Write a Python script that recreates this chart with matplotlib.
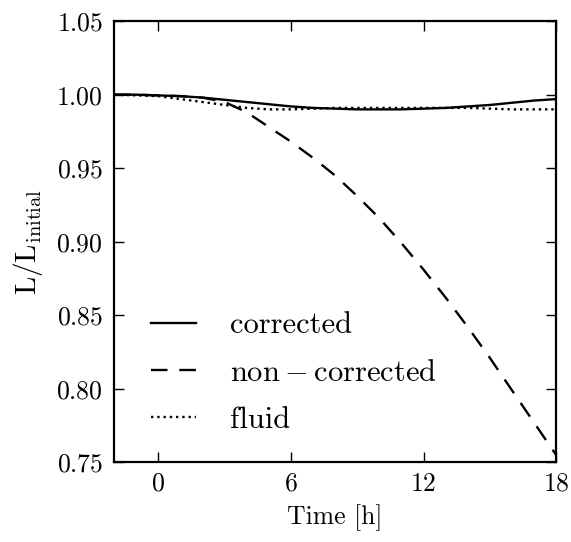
import numpy as np
import matplotlib
matplotlib.use("Agg")
import matplotlib.pyplot as plt

# time axis [h]
time_h = [-2, -1, 0, 1, 2, 3, 4, 5, 6, 7, 8, 9, 10, 11, 12, 13, 14, 15, 16, 17, 18]

corrected = [1.000, 1.000, 0.9995, 0.999, 0.998, 0.9965, 0.995, 0.9935, 0.992, 0.991,
             0.9905, 0.990, 0.990, 0.990, 0.9905, 0.991, 0.992, 0.993, 0.9945, 0.996, 0.997]
non_corrected = [1.000, 1.000, 0.9995, 0.999, 0.998, 0.995, 0.988, 0.978, 0.968, 0.957,
                 0.945, 0.931, 0.916, 0.899, 0.881, 0.862, 0.842, 0.821, 0.799, 0.777, 0.755]
fluid = [1.000, 0.9995, 0.999, 0.997, 0.995, 0.993, 0.991, 0.990, 0.990, 0.9905,
         0.991, 0.991, 0.991, 0.991, 0.991, 0.991, 0.991, 0.9905, 0.990, 0.990, 0.990]

labels = ["corrected", r"$\mathrm{non-corrected}$", "fluid"]
x_ticks = [0, 6, 12, 18]

plt.rcParams["font.family"] = ["cmr10", "DejaVu Serif"]
plt.rcParams["mathtext.fontset"] = "cm"
plt.rcParams["axes.unicode_minus"] = False
plt.rcParams["axes.formatter.use_mathtext"] = True

fig = plt.figure(figsize=(5.71, 5.42), dpi=100)
ax = fig.add_axes([0.2, 0.147, 0.774, 0.814])

ax.plot(time_h, corrected, color="black", lw=1.7, ls="-", label=labels[0])
ax.plot(time_h, non_corrected, color="black", lw=1.7, dashes=(7, 5), label=labels[1])
ax.plot(time_h, fluid, color="black", lw=1.7, ls=":", label=labels[2])

ax.set_xlim(-2, 18)
ax.set_ylim(0.75, 1.05)
ax.set_xticks(x_ticks)
ax.set_yticks(np.arange(0.75, 1.0501, 0.05))
ax.tick_params(direction="in", top=True, right=True, length=7, width=1,
               labelsize=18.5)
ax.tick_params(axis="x", pad=7)
ax.tick_params(axis="y", pad=8)
for s in ax.spines.values():
    s.set_linewidth(1.6)

ax.set_xlabel("Time [h]", fontsize=18.5, labelpad=6)
ax.set_ylabel(r"$\mathrm{L/L_{initial}}$", fontsize=21, labelpad=8)

ax.legend(loc="lower left", bbox_to_anchor=(0.02, 0.002), frameon=False,
          fontsize=22, handlelength=1.5, handletextpad=1.1, labelspacing=0.65)

fig.savefig("out.png", dpi=100)
